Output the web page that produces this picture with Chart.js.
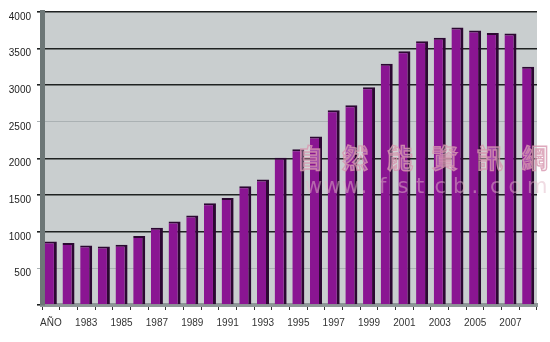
<!DOCTYPE html>
<html>
<head>
<meta charset="utf-8">
<script src="https://cdn.jsdelivr.net/npm/chart.js@4.4.1/dist/chart.umd.min.js"></script>
<style>
html,body{margin:0;padding:0;background:#ffffff;}
#wrap{width:550px;height:342px;position:relative;}
</style>
</head>
<body>
<div id="wrap"><canvas id="c" width="550" height="342"></canvas></div>
<script>
const categories = ['AÑO','1982','1983','1984','1985','1986','1987','1988','1989','1990','1991','1992','1993','1994','1995','1996','1997','1998','1999','2000','2001','2002','2003','2004','2005','2006','2007','2008'];
const values = [866,845,813,800,822,943,1053,1140,1223,1388,1460,1620,1714,2010,2126,2300,2658,2726,2973,3293,3465,3599,3647,3790,3746,3714,3706,3254];
const yTicks = [0,500,1000,1500,2000,2500,3000,3500,4000];
const watermarkCJK = '自然能資訊網';
const watermarkURL = 'www.fstcb.com';

const bgPlugin = {
  id: 'bg',
  beforeDraw(chart) {
    const {ctx, chartArea: a} = chart;
    ctx.save();
    ctx.fillStyle = '#c9cecf';
    ctx.fillRect(a.left, a.top, a.right - a.left, a.bottom - a.top);
    ctx.restore();
  }
};
const wmPlugin = {
  id: 'wm',
  afterDatasetsDraw(chart) {
    const {ctx, chartArea: a} = chart;
    ctx.save();
    ctx.font = 'bold 26px "Noto Sans CJK TC"';
    ctx.textBaseline = 'middle';
    ctx.strokeStyle = 'rgba(215,150,175,0.8)';
    ctx.fillStyle = 'rgba(240,225,230,0.3)';
    ctx.lineWidth = 1.4;
    const chars = [...watermarkCJK];
    const x0 = a.right - 240, step = 45;
    chars.forEach((ch, i) => {
      ctx.fillText(ch, x0 + i * step, 158);
      ctx.strokeText(ch, x0 + i * step, 158);
    });
    ctx.font = '21px "DejaVu Sans"';
    ctx.fillStyle = 'rgba(225,185,200,0.5)';
    const u = [...watermarkURL];
    u.forEach((ch, i) => {
      ctx.fillText(ch, x0 + 8 + i * 18.5, 188);
    });
    ctx.restore();
  }
};

new Chart(document.getElementById('c'), {
  type: 'bar',
  data: {
    labels: categories,
    datasets: [{
      data: values,
      backgroundColor: '#8a1592',
      borderColor: '#2c0832',
      borderWidth: {top: 2, right: 3, left: 0, bottom: 0},
      borderSkipped: false,
      barPercentage: 0.68,
      categoryPercentage: 1.0
    }]
  },
  options: {
    responsive: false,
    animation: false,
    devicePixelRatio: 1,
    layout: {padding: {left: 0, right: 13, top: 10, bottom: 12}},
    plugins: {legend: {display: false}, tooltip: {enabled: false}},
    scales: {
      x: {
        grid: {display: true, drawOnChartArea: false, drawTicks: true, tickLength: 5, color: '#333', offset: true},
        border: {display: true, color: '#8e9797', width: 4},
        ticks: {
          autoSkip: false, maxRotation: 0, padding: 7,
          color: '#333', font: {family: 'Liberation Sans', size: 10},
          callback: function(v, i) { return i % 2 === 0 ? categories[i] : ''; }
        },
        afterFit(s) { s.height = 25; }
      },
      y: {
        min: 0, max: 4000,
        afterBuildTicks(s) { s.ticks = yTicks.map(v => ({value: v})); },
        grid: {
          drawTicks: true, tickLength: 5,
          color: ctx => (ctx.tick && (ctx.tick.value === 500 || ctx.tick.value === 2500)) ? '#aab1b3' : '#1f2222',
          lineWidth: ctx => (ctx.tick && (ctx.tick.value === 500 || ctx.tick.value === 2500)) ? 1 : 1.6
        },
        border: {display: true, color: '#6d7777', width: 5},
        ticks: {
          padding: 6, labelOffset: 5,
          color: '#222', font: {family: 'Liberation Sans', size: 10},
          callback: v => v === 0 ? '' : String(v)
        },
        afterFit(s) { s.width = 42; }
      }
    }
  },
  plugins: [bgPlugin, wmPlugin]
});
</script>
</body>
</html>
